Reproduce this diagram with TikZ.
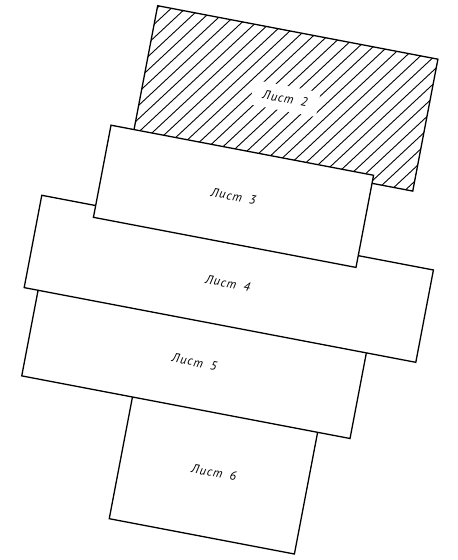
\documentclass[tikz,border=0pt]{standalone}
\usepackage{fontspec}
\setmainfont{PT Sans}
\newfontfamily\sheetfont[LetterSpace=7]{PT Sans}
\usetikzlibrary{calc}

\tikzset{
  sheet/.style={draw=black, line width=1.3pt, fill=white, rotate=-10.8, inner sep=0pt,
    font=\sheetfont\itshape\fontsize{12.5}{13}\selectfont},
  sheettext/.style={fill=white, rotate=-10.8, inner xsep=11pt, inner ysep=8pt,
    font=\sheetfont\itshape\fontsize{12.5}{13}\selectfont},
  hatch/.style={line width=0.9pt},
}

\begin{document}
\begin{tikzpicture}[x=1pt,y=-1pt]
  \useasboundingbox (0,0) rectangle (458,560);

  % sheet 2, hatched
  \node[sheet, draw=none, minimum width=284pt, minimum height=133pt] (s2) at (285.2,98.4) {};
  \begin{scope}
    \clip (s2.north west) -- (s2.north east) -- (s2.south east) -- (s2.south west) -- cycle;
    \foreach \i in {0,...,36}
      \draw[hatch] (30+\i*14.3-120, 211.9) -- (30+\i*14.3+120, -11.9);
  \end{scope}
  \node[sheettext] (t2) at (s2.center) {Лист\hspace{0.6em}2};
  \draw[line width=1.3pt] (s2.north west) -- (s2.north east) -- (s2.south east) -- (s2.south west) -- cycle;

  % sheets from the bottom up
  \node[sheet, minimum width=188.5pt, minimum height=130pt] (s6) at (214,472.5) {Лист\hspace{0.6em}6};
  \node[sheet, minimum width=334.2pt, minimum height=92pt] (s5) at (194.5,362) {Лист\hspace{0.6em}5};
  \node[sheet, minimum width=398.7pt, minimum height=94pt] (s4) at (228.8,278.8) {\raisebox{-9pt}[0pt][0pt]{Лист\hspace{0.6em}4}};
  \node[sheet, minimum width=267.3pt, minimum height=93.8pt] (s3) at (233.5,196.3) {Лист\hspace{0.6em}3};
\end{tikzpicture}
\end{document}
